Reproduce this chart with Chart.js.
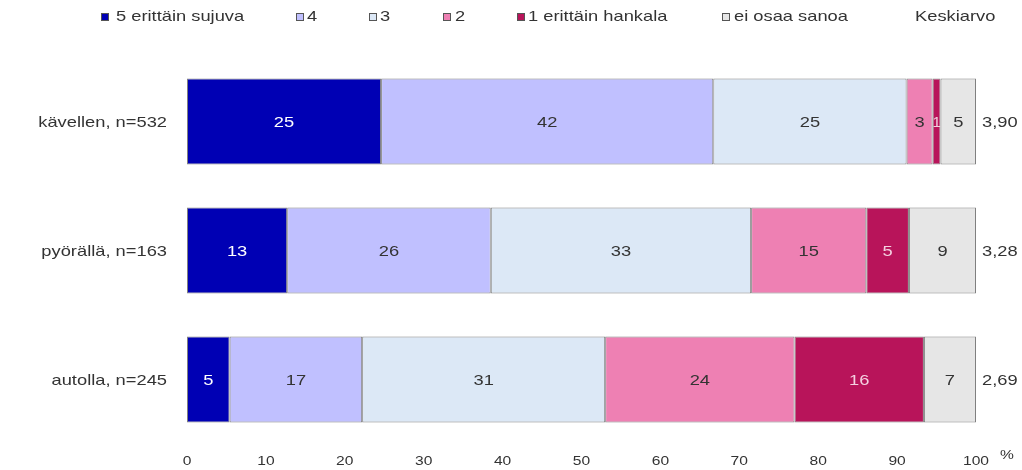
<!DOCTYPE html>
<html><head><meta charset="utf-8">
<script src="https://cdn.jsdelivr.net/npm/chart.js@4/dist/chart.umd.min.js"></script>
<style>html,body{margin:0;padding:0;background:#fff}#wrap{width:1022px;height:470px}</style>
</head><body><div id="wrap"><canvas id="c" width="1022" height="470"></canvas></div>
<script>
const categories = ["kävellen, n=532", "pyörällä, n=163", "autolla, n=245"];
const seriesNames = ["5 erittäin sujuva", "4", "3", "2", "1 erittäin hankala", "ei osaa sanoa"];
const s5 = [24.6, 12.7, 5.4];
const s4 = [42.1, 25.8, 16.8];
const s3 = [24.5, 33.0, 30.8];
const s2 = [3.3, 14.6, 24.0];
const s1 = [1.0, 5.4, 16.4];
const sEOS = [4.5, 8.5, 6.6];
const printed5 = ["25", "13", "5"];
const printed4 = ["42", "26", "17"];
const printed3 = ["25", "33", "31"];
const printed2 = ["3", "15", "24"];
const printed1 = ["1", "5", "16"];
const printedEOS = ["5", "9", "7"];
const keskiarvo = ["3,90", "3,28", "2,69"];
const xTicks = [0, 10, 20, 30, 40, 50, 60, 70, 80, 90, 100];

const colors = ["#0000b4", "#c0c0ff", "#dce8f6", "#ee80b3", "#b8145a", "#e6e6e6"];
const textColors = ["#ffffff", "#333333", "#333333", "#333333", "#f4d0e0", "#333333"];
const allData = [s5, s4, s3, s2, s1, sEOS];
const allPrinted = [printed5, printed4, printed3, printed2, printed1, printedEOS];
const FONT = "'Liberation Sans', Arial, sans-serif";
const SX = 1.22;

function txt(ctx, s, x, y, align, size, color, sx) {
  ctx.save();
  ctx.translate(x, y);
  ctx.scale(sx || SX, 1);
  ctx.font = size + "px " + FONT;
  ctx.textAlign = align;
  ctx.textBaseline = "middle";
  ctx.fillStyle = color;
  ctx.fillText(s, 0, 0);
  ctx.restore();
}

const datasets = seriesNames.map((n, i) => ({
  label: n, data: allData[i], backgroundColor: colors[i],
  borderColor: "#808080", borderWidth: 1, borderSkipped: false,
  barPercentage: 0.667, categoryPercentage: 1.0
}));

const customDraw = {
  id: "customDraw",
  afterDatasetsDraw(chart) {
    const ctx = chart.ctx;
    const xs = chart.scales.x, ys = chart.scales.y;
    chart.data.datasets.forEach((ds, di) => {
      const meta = chart.getDatasetMeta(di);
      meta.data.forEach((bar, j) => {
        const cx = (bar.x + bar.base) / 2;
        txt(ctx, allPrinted[di][j], cx, bar.y + 1, "center", 15, textColors[di], di === 4 && j === 0 ? 1.0 : SX);
      });
    });
    // category labels
    categories.forEach((c, j) => txt(ctx, c, 167, ys.getPixelForValue(j) + 1, "right", 15, "#333333"));
    // Keskiarvo column
    keskiarvo.forEach((v, j) => txt(ctx, v, 982, ys.getPixelForValue(j) + 1, "left", 15, "#333333"));
    // x ticks
    xTicks.forEach(v => txt(ctx, String(v), xs.getPixelForValue(v), 461, "center", 13, "#333333", 1.2));
    txt(ctx, "%", 1000, 455, "left", 13, "#333333", 1.2);
    // legend
    const sqX = [101, 296, 369, 443, 517, 722];
    const tX = [116, 307, 380, 455, 528, 734];
    seriesNames.forEach((n, i) => {
      ctx.fillStyle = colors[i];
      ctx.fillRect(sqX[i], 13, 8, 8);
      ctx.strokeStyle = "#555555"; ctx.lineWidth = 1;
      ctx.strokeRect(sqX[i] + 0.5, 13.5, 7, 7);
      txt(ctx, n, tX[i], 17, "left", 15, "#333333");
    });
    txt(ctx, "Keskiarvo", 915, 17, "left", 15, "#333333");
  }
};

new Chart(document.getElementById("c"), {
  type: "bar",
  data: { labels: categories, datasets },
  options: {
    indexAxis: "y", responsive: false, animation: false,
    layout: { padding: { top: 57, right: 46, left: 0, bottom: 0 } },
    plugins: { legend: { display: false }, tooltip: { enabled: false } },
    scales: {
      x: {
        stacked: true, min: 0, max: 100,
        grid: { display: false, drawTicks: false }, border: { display: false },
        ticks: { display: false },
        afterFit(s) { s.height = 26; }
      },
      y: {
        stacked: true,
        grid: { display: false, drawTicks: false }, border: { display: false },
        ticks: { display: false },
        afterFit(s) { s.width = 187; }
      }
    }
  },
  plugins: [customDraw]
});
</script></body></html>
